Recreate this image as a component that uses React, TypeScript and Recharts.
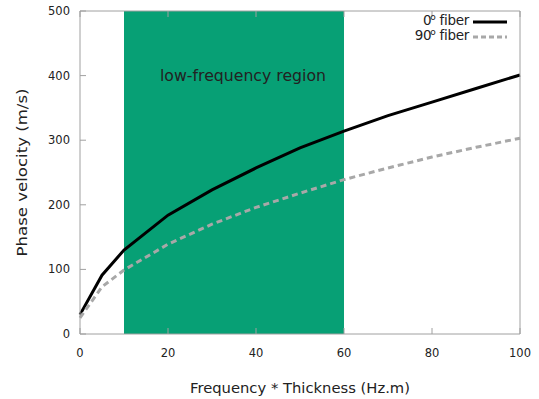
import React from "react";
import {
  LineChart,
  Line,
  XAxis,
  YAxis,
  ReferenceArea,
  Legend,
} from "recharts";

const freqThickness = [0, 5, 10, 20, 30, 40, 50, 60, 70, 80, 90, 100];
const fiber0 = [30, 91, 130, 184, 223, 257, 288, 314, 338, 359, 380, 401];
const fiber90 = [25, 73, 99, 139, 170, 196, 218, 239, 257, 274, 289, 303];
const xTicks = [0, 20, 40, 60, 80, 100];
const yTicks = [0, 100, 200, 300, 400, 500];
const lowFreqRegion = [10, 60];

const data = freqThickness.map((x, i) => ({
  x,
  fiber0: fiber0[i],
  fiber90: fiber90[i],
}));

const FONT = "'DejaVu Sans', Verdana, sans-serif";
const AXIS_GRAY = "#a0a0a0";
const TEXT = "#222";

const legendItems = [
  { deg: "0", color: "#000000", dash: undefined },
  { deg: "90", color: "#a8a8a8", dash: "5 3" },
];

const FiberLegend = () => (
  <div style={{ fontFamily: FONT, fontSize: 13.5, color: TEXT, lineHeight: "15px" }}>
    {legendItems.map((item) => (
      <div
        key={item.deg}
        style={{
          display: "flex",
          alignItems: "center",
          justifyContent: "flex-end",
          height: 15,
        }}
      >
        <span style={{ letterSpacing: -0.3 }}>
          {item.deg}
          <sup style={{ fontSize: 9, lineHeight: 0, verticalAlign: "5px", marginLeft: -1 }}>
            o
          </sup>{" "}
          fiber
        </span>
        <svg width={38} height={8} style={{ marginLeft: 2, marginTop: 3 }}>
          <line
            x1={2}
            x2={36}
            y1={4}
            y2={4}
            stroke={item.color}
            strokeWidth={3}
            strokeDasharray={item.dash}
          />
        </svg>
      </div>
    ))}
  </div>
);

const noTick = () => <g />;

const XLabel = ({ viewBox }: any) => (
  <text
    x={viewBox.x + viewBox.width / 2}
    y={393}
    textAnchor="middle"
    fill={TEXT}
    fontSize={14.5}
    fontFamily={FONT}
    textLength={220}
    lengthAdjust="spacingAndGlyphs"
  >
    Frequency * Thickness (Hz.m)
  </text>
);

const YLabel = ({ viewBox }: any) => {
  const cy = viewBox.y + viewBox.height / 2;
  return (
    <text
      x={27}
      y={cy}
      transform={`rotate(-90, 27, ${cy})`}
      textAnchor="middle"
      fill={TEXT}
      fontSize={14.5}
      fontFamily={FONT}
      textLength={168}
      lengthAdjust="spacingAndGlyphs"
    >
      Phase velocity (m/s)
    </text>
  );
};

const RegionLabel = ({ viewBox }: any) => (
  <text
    x={viewBox.x + 36}
    y={viewBox.y + 70}
    textAnchor="start"
    fill={TEXT}
    fontSize={15.5}
    fontFamily={FONT}
    textLength={166}
    lengthAdjust="spacingAndGlyphs"
  >
    low-frequency region
  </text>
);

export default function App() {
  return (
    <div style={{ position: "absolute", left: 0, top: 0, background: "#fff" }}>
      <LineChart
        width={539}
        height={399}
        data={data}
        margin={{ top: 10, right: 18, left: 0, bottom: 0 }}
      >
        <ReferenceArea
          x1={lowFreqRegion[0]}
          x2={lowFreqRegion[1]}
          y1={0}
          y2={500}
          fill="#07a075"
          fillOpacity={1}
          stroke="none"
          label={RegionLabel}
        />
        <XAxis
          dataKey="x"
          type="number"
          domain={[0, 100]}
          ticks={xTicks}
          height={65}
          stroke={AXIS_GRAY}
          tickSize={-6}
          tickMargin={21}
          tick={{ fill: TEXT, fontSize: 11.5, fontFamily: FONT }}
          label={XLabel}
        />
        <XAxis
          xAxisId="top"
          dataKey="x"
          type="number"
          orientation="top"
          domain={[0, 100]}
          ticks={xTicks}
          height={1}
          stroke={AXIS_GRAY}
          tickSize={-6}
          tick={noTick}
        />
        <YAxis
          type="number"
          domain={[0, 500]}
          ticks={yTicks}
          width={80}
          stroke={AXIS_GRAY}
          tickSize={-6}
          tickMargin={16}
          tick={{ fill: TEXT, fontSize: 11.5, fontFamily: FONT }}
          label={YLabel}
        />
        <YAxis
          yAxisId="right"
          type="number"
          orientation="right"
          domain={[0, 500]}
          ticks={yTicks}
          width={1}
          stroke={AXIS_GRAY}
          tickSize={-6}
          tick={noTick}
        />
        <Legend
          layout="horizontal"
          verticalAlign="middle"
          align="center"
          content={FiberLegend}
          wrapperStyle={{ top: 13, right: 30, left: "auto", bottom: "auto", width: "auto" }}
        />
        <Line
          dataKey="fiber0"
          name="0 fiber"
          stroke="#000000"
          strokeWidth={3}
          dot={false}
          isAnimationActive={false}
        />
        <Line
          dataKey="fiber90"
          name="90 fiber"
          stroke="#a8a8a8"
          strokeWidth={3}
          strokeDasharray="6 4"
          dot={false}
          isAnimationActive={false}
        />
      </LineChart>
    </div>
  );
}
